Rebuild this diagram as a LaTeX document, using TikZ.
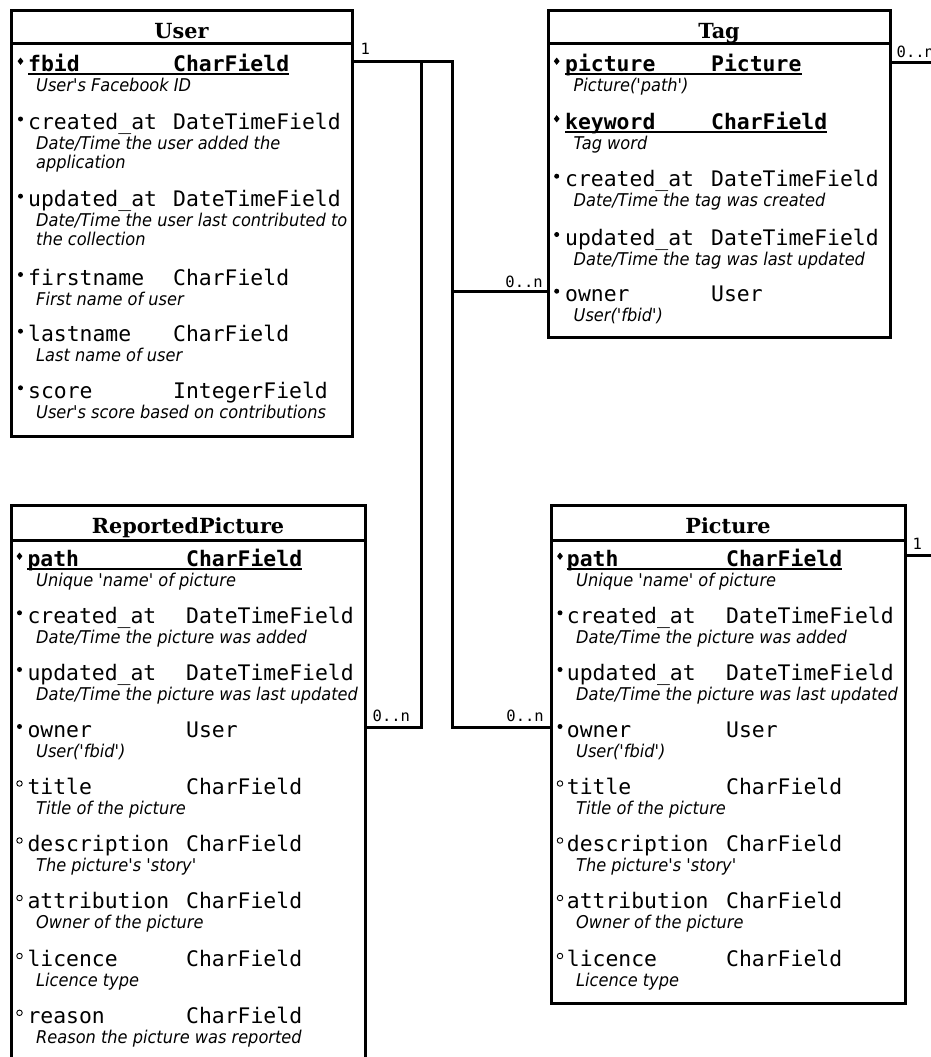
\documentclass[tikz,border=0pt]{standalone}
\usepackage{fontspec}
\usetikzlibrary{shapes.geometric}
\newfontfamily\monof{DejaVu Sans Mono}
\newfontfamily\descf[FakeStretch=0.92,Ligatures=TeXOff]{DejaVu Sans}
\newfontfamily\titlef{DejaVu Serif}
\tikzset{
 box/.style={draw,line width=3pt,inner sep=0pt,outer sep=0pt,anchor=north west},
 divline/.style={line width=3pt},
 ttl/.style={font=\titlef\bfseries\fontsize{20.8}{24}\selectfont,anchor=base,inner sep=0pt},
 fname/.style={font=\monof\fontsize{21.4}{24}\selectfont,anchor=base west,inner sep=0pt},
 kname/.style={font=\monof\bfseries\fontsize{21.4}{24}\selectfont,anchor=base west,inner sep=0pt},
 fdesc/.style={font=\descf\itshape\fontsize{17.6}{18.5}\selectfont,anchor=base west,inner sep=0pt},
 kbul/.style={diamond,fill,inner sep=0pt,minimum width=6pt,minimum height=7.5pt},
 rbul/.style={circle,fill,inner sep=0pt,minimum size=5pt},
 obul/.style={circle,draw,line width=0.9pt,inner sep=0pt,minimum size=5.5pt},
 conn/.style={line width=3pt},
 mult/.style={font=\monof\fontsize{15.5}{18}\selectfont,inner sep=0pt},
}
\newcommand\cols[4]{\def\colB{#1}\def\colN{#2}\def\colT{#3}\def\colD{#4}}
\newcommand\fld[6]{%
 \node[#2] (#1b) at (\colB,#3-10.5) {};
 \node[fname] (#1n) at (\colN,#3) {#4};
 \node[fname] (#1t) at (\colT,#3) {#5};
 \node[fdesc] (#1d) at (\colD,#3+20) {#6};}
\newcommand\kfld[5]{%
 \node[kbul] (#1b) at (\colB,#2-10.5) {};
 \node[kname] (#1n) at (\colN,#2) {#3};
 \node[kname] (#1t) at (\colT,#2) {#4};
 \node[fdesc] (#1d) at (\colD,#2+20) {#5};
 \draw[line width=1.7pt] ([yshift=-2.6pt]#1n.base west) -- ([yshift=-2.6pt]#1t.base east);}
\newcommand\dline[3]{\node[fdesc] (#1) at (\colD,#2+38.5) {#3};}
\begin{document}
\begin{tikzpicture}[x=1pt,y=-1pt]
\useasboundingbox (0,0) rectangle (931,1057);
\clip (0,0) rectangle (931,1057);
\coordinate (dTop) at (0,44);
\coordinate (dBot) at (0,540);
% User
\node[box,minimum width=341.5pt,minimum height=425pt] (user) at (11,11) {};
\node[ttl] (userT) at (181.5,39) {User};
\draw[divline] (user.west |- dTop) -- (user.east |- dTop);
\cols{20.5}{28}{173}{36}
\kfld{u1}{71.7}{fbid}{CharField}{User's Facebook ID}
\fld{u2}{rbul}{129.5}{created\_at}{DateTimeField}{Date/Time the user added the}
\dline{u2e}{129.5}{application}
\fld{u3}{rbul}{206.7}{updated\_at}{DateTimeField}{Date/Time the user last contributed to}
\dline{u3e}{206.7}{the collection}
\fld{u4}{rbul}{285}{firstname}{CharField}{First name of user}
\fld{u5}{rbul}{341.7}{lastname}{CharField}{Last name of user}
\fld{u6}{rbul}{398.3}{score}{IntegerField}{User's score based on contributions}
% Tag
\node[box,minimum width=341.5pt,minimum height=326pt] (tag) at (548.5,11) {};
\node[ttl] (tagT) at (719,39) {Tag};
\draw[divline] (tag.west |- dTop) -- (tag.east |- dTop);
\cols{556.7}{565}{711}{573.5}
\kfld{t1}{71.7}{picture}{Picture}{Picture('path')}
\kfld{t2}{129.3}{keyword}{CharField}{Tag word}
\fld{t3}{rbul}{186.7}{created\_at}{DateTimeField}{Date/Time the tag was created}
\fld{t4}{rbul}{245}{updated\_at}{DateTimeField}{Date/Time the tag was last updated}
\fld{t5}{rbul}{301.7}{owner}{User}{User('fbid')}
% ReportedPicture
\node[box,minimum width=354.5pt,minimum height=570pt] (rp) at (11,505) {};
\node[ttl] (rpT) at (188,533.3) {ReportedPicture};
\draw[divline] (rp.west |- dBot) -- (rp.east |- dBot);
\cols{19.5}{27.3}{186}{36}
\kfld{r1}{566.7}{path}{CharField}{Unique 'name' of picture}
\fld{r2}{rbul}{623.3}{created\_at}{DateTimeField}{Date/Time the picture was added}
\fld{r3}{rbul}{680}{updated\_at}{DateTimeField}{Date/Time the picture was last updated}
\fld{r4}{rbul}{737}{owner}{User}{User('fbid')}
\fld{r5}{obul}{794}{title}{CharField}{Title of the picture}
\fld{r6}{obul}{851}{description}{CharField}{The picture's 'story'}
\fld{r7}{obul}{908.5}{attribution}{CharField}{Owner of the picture}
\fld{r8}{obul}{966.5}{licence}{CharField}{Licence type}
\fld{r9}{obul}{1023.3}{reason}{CharField}{Reason the picture was reported}
% Picture
\node[box,minimum width=354.5pt,minimum height=498pt] (pic) at (551,505) {};
\node[ttl] (picT) at (728,533.3) {Picture};
\draw[divline] (pic.west |- dBot) -- (pic.east |- dBot);
\cols{560}{566.7}{726}{576}
\kfld{p1}{566.7}{path}{CharField}{Unique 'name' of picture}
\fld{p2}{rbul}{623.3}{created\_at}{DateTimeField}{Date/Time the picture was added}
\fld{p3}{rbul}{680}{updated\_at}{DateTimeField}{Date/Time the picture was last updated}
\fld{p4}{rbul}{737}{owner}{User}{User('fbid')}
\fld{p5}{obul}{794}{title}{CharField}{Title of the picture}
\fld{p6}{obul}{851}{description}{CharField}{The picture's 'story'}
\fld{p7}{obul}{908.5}{attribution}{CharField}{Owner of the picture}
\fld{p8}{obul}{966.5}{licence}{CharField}{Licence type}
% connectors
\coordinate (ja) at (421,62);
\coordinate (jb) at (452,62);
\coordinate (yTag) at (0,291.7);
\coordinate (yLow) at (0,727.7);
\coordinate (yTR) at (0,62.3);
\coordinate (yPR) at (0,555.5);
\coordinate (offR) at (960,0);
\draw[conn] (user.east |- jb) -- (jb) -- (jb |- yLow) -- (pic.west |- yLow);
\draw[conn] (jb |- yTag) -- (tag.west |- yTag);
\draw[conn] (ja) -- (ja |- yLow) -- (rp.east |- yLow);
\draw[conn] (tag.east |- yTR) -- (offR |- yTR);
\draw[conn] (pic.east |- yPR) -- (offR |- yPR);
\node[mult,anchor=base west] (m1) at (360.5,55) {1};
\node[mult,anchor=base east] (m2) at (543,287) {0..n};
\node[mult,anchor=base west] (m3) at (372.5,721) {0..n};
\node[mult,anchor=base east] (m4) at (544,721) {0..n};
\node[mult,anchor=base west] (m5) at (896.5,57) {0..n};
\node[mult,anchor=base west] (m6) at (912.5,549.5) {1};
\end{tikzpicture}
\end{document}
